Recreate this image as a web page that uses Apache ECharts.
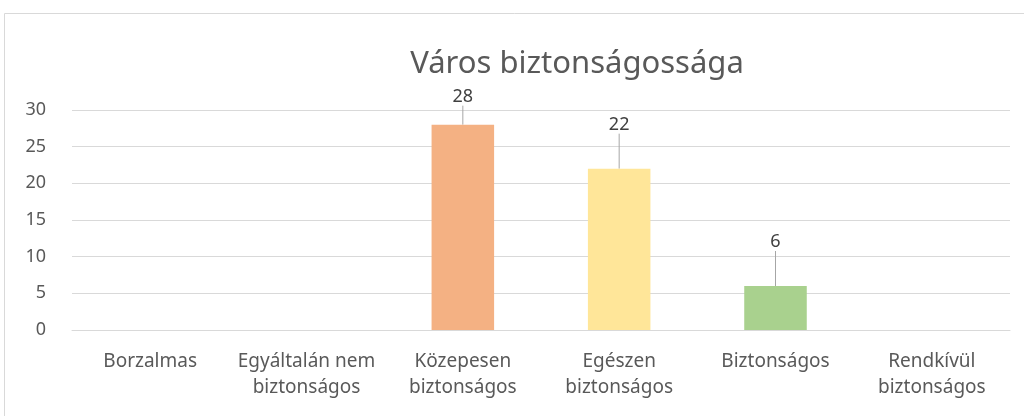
<!DOCTYPE html>
<html>
<head>
<meta charset="UTF-8">
<title>Város biztonságossága</title>
<script src="https://cdn.jsdelivr.net/npm/echarts@6/dist/echarts.min.js"></script>
<style>
  html, body { margin: 0; padding: 0; background: #fff; }
  #chart { width: 1024px; height: 416px; }
</style>
</head>
<body>
<div id="chart"></div>
<script>
var categories = ['Borzalmas', 'Egyáltalán nem\nbiztonságos', 'Közepesen\nbiztonságos', 'Egészen\nbiztonságos', 'Biztonságos', 'Rendkívül\nbiztonságos'];
var values = [0, 0, 28, 22, 6, 0];
var barColors = ['#f4b183', '#f4b183', '#f4b183', '#ffe699', '#a9d18e', '#a9d18e'];
var labelShift = [0, 0, -14, -30, -30, 0];

var chart = echarts.init(document.getElementById('chart'));

var data = values.map(function (v, i) {
  return {
    value: v,
    itemStyle: { color: barColors[i] },
    label: { show: v > 0 }
  };
});

chart.setOption({
  animation: false,
  textStyle: { fontFamily: 'Noto Sans' },
  title: {
    text: 'Város biztonságossága',
    left: 572,
    top: 44,
    textAlign: 'center',
    textStyle: { fontSize: 31, fontWeight: 'normal', color: '#595959', fontFamily: 'Noto Sans' }
  },
  graphic: [{
    type: 'rect',
    shape: { x: 4.5, y: 13.5, width: 1040, height: 420 },
    style: { fill: 'none', stroke: '#d9d9d9', lineWidth: 1 }
  }],
  grid: { left: 72, right: 14, top: 110, bottom: 86 },
  xAxis: {
    type: 'category',
    data: categories,
    axisLine: { lineStyle: { color: '#d9d9d9' } },
    axisTick: { show: false },
    axisLabel: { color: '#595959', fontSize: 19, margin: 19, lineHeight: 26, interval: 0 }
  },
  yAxis: {
    type: 'value',
    min: 0,
    max: 30,
    interval: 5,
    axisLine: { show: false },
    axisTick: { show: false },
    splitLine: { lineStyle: { color: '#d9d9d9' } },
    axisLabel: { color: '#595959', fontSize: 18, margin: 26 }
  },
  series: [{
    type: 'bar',
    data: data,
    barWidth: '40%',
    label: {
      position: 'top',
      color: '#404040',
      fontSize: 18
    },
    labelLayout: function (params) {
      return { dy: labelShift[params.dataIndex] };
    },
    labelLine: { show: true, lineStyle: { color: '#a6a6a6', width: 1 } }
  }]
});
</script>
</body>
</html>
